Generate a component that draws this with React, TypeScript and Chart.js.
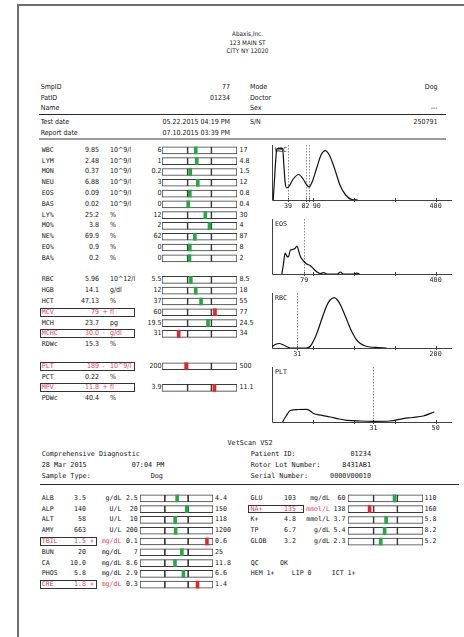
import React, { useEffect, useRef } from "react";
import { Chart, registerables } from "chart.js";
Chart.register(...registerables);

// ---------------- data ----------------
const labAddress = ["Abaxis,Inc.", "123 MAIN ST", "CITY NY 12020"];
const infoLeftLabels = ["SmpID", "PatID", "Name", "Test date", "Report date"];
const infoLeftValues = ["77", "01234", "", "05.22.2015 04:19 PM", "07.10.2015 03:39 PM"];
const infoRightLabels = ["Mode", "Doctor", "Sex", "S/N", ""];
const infoRightValues = ["Dog", "", "---", "250791", ""];

const hmNames = ["WBC", "LYM", "MON", "NEU", "EOS", "BAS", "LY%", "MO%", "NE%", "EO%", "BA%", "",
  "RBC", "HGB", "HCT", "MCV", "MCH", "MCHC", "RDWc", "", "PLT", "PCT", "MPV", "PDWc"];
const hmValues = ["9.85", "2.48", "0.37", "6.88", "0.09", "0.02", "25.2", "3.8", "69.9", "0.9", "0.2", "",
  "5.96", "14.1", "47.13", "79", "23.7", "30.0", "15.3", "", "189", "0.22", "11.8", "40.4"];
const hmFlags = ["", "", "", "", "", "", "", "", "", "", "", "",
  "", "", "", "+", "", "-", "", "", "-", "", "+", ""];
const hmUnits = ["10^9/l", "10^9/l", "10^9/l", "10^9/l", "10^9/l", "10^9/l", "%", "%", "%", "%", "%", "",
  "10^12/l", "g/dl", "%", "fl", "pg", "g/dl", "%", "", "10^9/l", "%", "fl", "%"];
const hmLow = [6, 1, 0.2, 3, 0, 0, 12, 2, 62, 0, 0, null,
  5.5, 12, 37, 60, 19.5, 31, null, null, 200, null, 3.9, null];
const hmHigh = [17, 4.8, 1.5, 12, 0.8, 0.4, 30, 4, 87, 8, 2, null,
  8.5, 18, 55, 77, 24.5, 34, null, null, 500, null, 11.1, null];

const chemTitle = "VetScan VS2";
const chemInfoLeft = ["Comprehensive Diagnostic", "28 Mar 2015", "Sample Type:"];
const chemInfoMid = ["", "07:04 PM", "Dog"];
const chemInfoRightLabels = ["Patient ID:", "Rotor Lot Number:", "Serial Number:"];
const chemInfoRightValues = ["01234", "8431AB1", "0000V00010"];

const chemNamesL = ["ALB", "ALP", "ALT", "AMY", "TBIL", "BUN", "CA", "PHOS", "CRE"];
const chemValuesL = ["3.5", "140", "58", "663", "1.5", "20", "10.0", "5.8", "1.8"];
const chemFlagsL = ["", "", "", "", "+", "", "", "", "+"];
const chemUnitsL = ["g/dL", "U/L", "U/L", "U/L", "mg/dL", "mg/dL", "mg/dL", "mg/dL", "mg/dL"];
const chemLowL = [2.5, 20, 10, 200, 0.1, 7, 8.6, 2.9, 0.3];
const chemHighL = [4.4, 150, 118, 1200, 0.6, 25, 11.8, 6.6, 1.4];

const chemNamesR = ["GLU", "NA+", "K+", "TP", "GLOB"];
const chemValuesR = ["103", "135", "4.8", "6.7", "3.2"];
const chemFlagsR = ["", "-", "", "", ""];
const chemUnitsR = ["mg/dL", "mmol/L", "mmol/L", "g/dL", "g/dL"];
const chemLowR = [60, 138, 3.7, 5.4, 2.3];
const chemHighR = [110, 160, 5.8, 8.2, 5.2];

const qcLine1 = ["QC", "OK"];
const qcLine2 = ["HEM 1+", "LIP 0", "ICT 1+"];

// histograms: [size, count]
const wbcCurve = [[3, 0], [6, 20], [10, 45], [12.5, 51.5], [26, 51.5], [29, 35], [32, 18], [36, 12], [42, 14], [52, 21],
  [65, 25.5], [76, 21], [85, 15], [91, 13], [100, 20], [110, 33], [120, 45], [130, 49.3], [140, 45], [150, 35],
  [158, 25], [166, 15], [180, 5], [195, 0.5], [210, 0]];
const wbcMarks = [39, 82, 90];
const wbcTickLabels = ["39", "82", "90", "400"];
const wbcTickValues = [39, 82, 90, 400];
const wbcMinorTicks = [100, 200, 300, 400];

const eosCurve = [[24, 0], [28, 10], [32, 21], [36, 18], [40, 17], [45, 24], [50, 24.5], [56, 25.5], [61, 28], [66, 22],
  [70, 17], [77, 13], [85, 10], [93, 8.5], [102, 5], [110, 2], [118, 0.5], [126, 1.3], [134, 0], [160, 0],
  [167, 2], [174, 0], [200, 0], [207, 0.8], [214, 0]];
const eosMarks = [79];
const eosTickLabels = ["79", "400"];
const eosTickValues = [79, 400];
const eosMinorTicks = [100, 200, 300, 400];

const rbcCurve = [[0, 1], [4, 3.5], [9, 4.5], [14, 3], [19, 1], [23, 0], [42, 0], [47, 2], [51, 7.5], [55, 15],
  [59, 24.5], [63, 34], [67, 42.5], [71, 48], [76, 50.4], [80, 48], [84, 42.5], [88, 35], [92, 27], [96, 19],
  [100, 12.5], [104, 7.5], [108, 4.5], [114, 2], [120, 1], [130, 0.5], [140, 0]];
const rbcMarks = [31];
const rbcTickLabels = ["31", "200"];
const rbcTickValues = [31, 200];
const rbcMinorTicks = [50, 100, 150, 200];

const pltCurve = [[3.2, 0], [4.3, 6], [5.6, 11.5], [8, 12.5], [10.7, 12.7], [12.7, 8.5], [15, 6.8], [17.8, 5],
  [20.5, 3], [22.9, 1.7], [27, 1], [31, 0.7], [36, 1], [40.1, 3.4], [43, 4.5], [46.2, 6], [49.6, 10]];
const pltMarks = [31];
const pltTickLabels = ["31", "50"];
const pltTickValues = [31, 50];
const pltMinorTicks = [12.5, 25, 37.5, 50];

// ---------------- styles ----------------
const W = 464;
const INK = "#151515";
const RED_TXT = "#e2405c";
const GREEN = "#25a844";
const RED = "#e3262b";
const BOX = "#3a3a3a";
const SANS = '"DejaVu Sans Condensed","DejaVu Sans",sans-serif';
const MONO = '"DejaVu Sans Mono","Liberation Mono",monospace';

function T({ x, y, t, a = "left", c = INK, f = SANS, s = 7 }: any) {
  const st: any = {
    position: "absolute", top: y - 4.5, fontFamily: f, fontSize: s, lineHeight: "9px", height: 9,
    color: c, whiteSpace: "pre",
  };
  if (f === SANS) st.fontStretch = "condensed";
  if (a === "right") st.right = W - x;
  else if (a === "center") { st.left = x - 100; st.width = 200; st.textAlign = "center"; }
  else st.left = x;
  return <div style={st}>{t}</div>;
}

function RangeBars({ left, top, width, height, low, high, values, flags }: any) {
  const ref = useRef<HTMLCanvasElement>(null);
  useEffect(() => {
    const n = low.length;
    const labels = Array.from({ length: n }, (_, i) => String(i));
    const has = (i: number) => low[i] != null && high[i] != null;
    const pos = (i: number) => {
      const p = (parseFloat(values[i]) - low[i]) / (high[i] - low[i]);
      return Math.max(-0.75, Math.min(1.75, p));
    };
    const chart = new Chart(ref.current as HTMLCanvasElement, {
      type: "bar",
      data: {
        labels,
        datasets: [
          {
            data: labels.map((_, i) => (has(i) ? [pos(i) - 0.06, pos(i) + 0.06] : null)) as any,
            backgroundColor: labels.map((_, i) => (flags[i] ? RED : GREEN)),
            borderWidth: 0, barThickness: 7, grouped: false,
          } as any,
          {
            data: labels.map((_, i) => (has(i) ? [0, 1] : null)) as any,
            backgroundColor: "rgba(0,0,0,0)", borderColor: BOX,
            borderWidth: { left: 1, right: 1, top: 0, bottom: 0 }, borderSkipped: false,
            barThickness: 7, grouped: false,
          } as any,
          {
            data: labels.map((_, i) => (has(i) ? [-1, 2] : null)) as any,
            backgroundColor: "#ffffff", borderColor: BOX, borderWidth: 1, borderSkipped: false,
            barThickness: 7, grouped: false,
          } as any,
        ],
      },
      options: {
        indexAxis: "y", animation: false, responsive: false, maintainAspectRatio: false, events: [],
        layout: { padding: { left: 1, right: 1, top: 0, bottom: 0 } },
        plugins: { legend: { display: false }, tooltip: { enabled: false } },
        scales: { x: { display: false, min: -1, max: 2 }, y: { display: false } },
      } as any,
    });
    return () => chart.destroy();
  }, []);
  return <canvas ref={ref} width={width} height={height}
    style={{ position: "absolute", left, top, width, height }} />;
}

function Histogram({ top, curve, xMax, yMax, marks, tickValues, tickLabels, minorTicks, name, shifts }: any) {
  const ref = useRef<HTMLCanvasElement>(null);
  useEffect(() => {
    const deco = {
      id: "deco",
      beforeDatasetsDraw(chart: any) {
        const { ctx, chartArea: ca, scales } = chart;
        const x = scales.x;
        ctx.save();
        ctx.strokeStyle = "#404040";
        ctx.lineWidth = 1;
        ctx.beginPath();
        ctx.moveTo(ca.left + 0.5, ca.top);
        ctx.lineTo(ca.left + 0.5, ca.bottom + 0.5);
        ctx.lineTo(ca.right, ca.bottom + 0.5);
        ctx.stroke();
        ctx.beginPath();
        [...minorTicks, ...marks].forEach((v: number) => {
          const px = Math.round(x.getPixelForValue(v)) + 0.5;
          ctx.moveTo(px, ca.bottom - 2);
          ctx.lineTo(px, ca.bottom + 2);
        });
        ctx.stroke();
        ctx.setLineDash([1.5, 1.5]);
        ctx.strokeStyle = "#8a8a8a";
        ctx.beginPath();
        marks.forEach((v: number) => {
          const px = Math.round(x.getPixelForValue(v)) + 0.5;
          ctx.moveTo(px, ca.top);
          ctx.lineTo(px, ca.bottom);
        });
        ctx.stroke();
        ctx.restore();
      },
      afterDatasetsDraw(chart: any) {
        const { ctx, chartArea: ca, scales } = chart;
        const x = scales.x;
        ctx.save();
        ctx.fillStyle = INK;
        ctx.font = '6.7px "DejaVu Sans Mono"';
        ctx.textBaseline = "middle";
        ctx.textAlign = "center";
        tickLabels.forEach((l: string, i: number) => {
          ctx.fillText(l, x.getPixelForValue(tickValues[i]) + (shifts ? shifts[i] : 0), ca.bottom + 6.5);
        });
        ctx.textAlign = "left";
        ctx.fillText(name, ca.left + 3, ca.top + 5.5);
        ctx.restore();
      },
    };
    const chart = new Chart(ref.current as HTMLCanvasElement, {
      type: "line",
      data: {
        datasets: [{
          data: curve.map((p: number[]) => ({ x: p[0], y: p[1] })),
          borderColor: "#111111", borderWidth: 1.2, pointRadius: 0, cubicInterpolationMode: "monotone",
          fill: false,
        } as any],
      },
      options: {
        animation: false, responsive: false, maintainAspectRatio: false, events: [],
        layout: { padding: { left: 10, right: 10, top: 3, bottom: 12 } },
        plugins: { legend: { display: false }, tooltip: { enabled: false } },
        scales: {
          x: { type: "linear", display: false, min: 0, max: xMax },
          y: { display: false, min: 0, max: yMax },
        },
      } as any,
      plugins: [deco],
    });
    return () => chart.destroy();
  }, []);
  return <canvas ref={ref} width={200} height={70}
    style={{ position: "absolute", left: 262, top, width: 200, height: 70 }} />;
}

const HM_TOP = 145, HM_H = 259;
const CH_TOP = 493, CH_PITCH = 97 / 9;

export default function App() {
  const hmY = (i: number) => HM_TOP + (i + 0.5) * HM_H / hmNames.length;
  const chY = (i: number) => CH_TOP + (i + 0.5) * CH_PITCH;
  const infoY = [87.7, 98.3, 108.7, 122, 133.3];
  const chemInfoY = [454.5, 465.5, 476.3];
  return (
    <div style={{ position: "absolute", left: 0, top: 0, width: W, height: 637, background: "#fff", overflow: "hidden" }}>
      <div style={{ position: "absolute", left: 17, top: 4, width: 500, height: 700, borderTop: "2px solid #6e6e6e", borderLeft: "2px solid #6e6e6e" }} />

      {labAddress.map((t, i) => <T key={"a" + i} x={247.5} y={33.3 + i * 8.7} t={t} a="center" s={6.3} />)}

      {infoLeftLabels.map((t, i) => <T key={"il" + i} x={40.7} y={infoY[i]} t={t} />)}
      {infoLeftValues.map((t, i) => <T key={"iv" + i} x={230} y={infoY[i]} t={t} a="right" />)}
      {infoRightLabels.map((t, i) => <T key={"rl" + i} x={250} y={infoY[i]} t={t} />)}
      {infoRightValues.map((t, i) => <T key={"rv" + i} x={437.5} y={infoY[i]} t={t} a="right" />)}
      <div style={{ position: "absolute", left: 39, top: 113.5, width: 407, height: 1.6, background: "#2a2a2a" }} />
      <div style={{ position: "absolute", left: 39, top: 138, width: 407, height: 1.8, background: "#9a9a9a" }} />

      {hmNames.map((n, i) => {
        if (!n) return null;
        const y = hmY(i);
        const c = hmFlags[i] ? RED_TXT : INK;
        return (
          <React.Fragment key={"hm" + i}>
            {hmFlags[i] && <div style={{ position: "absolute", left: 39.5, top: y - 4.6, width: 95, height: 9.2, border: "1px solid #333", boxSizing: "border-box" }} />}
            <T x={41.7} y={y} t={n} f={MONO} s={6.7} c={c} />
            <T x={99} y={y} t={hmValues[i]} a="right" c={c} />
            {hmFlags[i] && <T x={102.5} y={y} t={hmFlags[i]} c={c} />}
            <T x={110} y={y} t={hmUnits[i]} c={c} />
            {hmLow[i] != null && <T x={161.5} y={y} t={String(hmLow[i])} a="right" />}
            {hmHigh[i] != null && <T x={239.5} y={y} t={String(hmHigh[i])} />}
          </React.Fragment>
        );
      })}
      <RangeBars left={161} top={HM_TOP} width={77} height={HM_H} low={hmLow} high={hmHigh} values={hmValues} flags={hmFlags} />

      <Histogram top={142} curve={wbcCurve} xMax={440} yMax={55} marks={wbcMarks} tickValues={wbcTickValues}
        tickLabels={wbcTickLabels} minorTicks={wbcMinorTicks} name="WBC" shifts={[0, 0, 8, 0]} />
      <Histogram top={216} curve={eosCurve} xMax={440} yMax={55} marks={eosMarks} tickValues={eosTickValues}
        tickLabels={eosTickLabels} minorTicks={eosMinorTicks} name="EOS" />
      <Histogram top={290} curve={rbcCurve} xMax={220} yMax={55} marks={rbcMarks} tickValues={rbcTickValues}
        tickLabels={rbcTickLabels} minorTicks={rbcMinorTicks} name="RBC" />
      <Histogram top={364} curve={pltCurve} xMax={55} yMax={55} marks={pltMarks} tickValues={pltTickValues}
        tickLabels={pltTickLabels} minorTicks={pltMinorTicks} name="PLT" />

      <T x={250} y={443} t={chemTitle} a="center" f={MONO} s={6.8} />
      {chemInfoLeft.map((t, i) => <T key={"cl" + i} x={41.7} y={chemInfoY[i]} t={t} f={MONO} s={6.8} />)}
      {chemInfoMid.map((t, i) => <T key={"cm" + i} x={i === 1 ? 131.7 : 150.7} y={chemInfoY[i]} t={t} f={MONO} s={6.8} />)}
      {chemInfoRightLabels.map((t, i) => <T key={"cr" + i} x={250.7} y={chemInfoY[i]} t={t} f={MONO} s={6.8} />)}
      {chemInfoRightValues.map((t, i) => <T key={"cv" + i} x={371} y={chemInfoY[i]} t={t} a="right" f={MONO} s={6.8} />)}
      <div style={{ position: "absolute", left: 40, top: 484, width: 419, height: 1.2, background: "#2a2a2a" }} />

      {chemNamesL.map((n, i) => {
        const y = chY(i);
        const c = chemFlagsL[i] ? RED_TXT : INK;
        return (
          <React.Fragment key={"cl" + i}>
            {chemFlagsL[i] && <div style={{ position: "absolute", left: 39.5, top: y - 4.3, width: 57, height: 8.6, border: "1px solid #333", boxSizing: "border-box" }} />}
            <T x={41.7} y={y} t={n} f={MONO} s={6.6} c={c} />
            <T x={86} y={y} t={chemValuesL[i]} a="right" f={MONO} s={6.6} c={c} />
            {chemFlagsL[i] && <T x={90} y={y} t={chemFlagsL[i]} f={MONO} s={6.6} c={c} />}
            <T x={121.5} y={y} t={chemUnitsL[i]} a="right" f={MONO} s={6.6} c={c} />
            <T x={137.8} y={y} t={String(chemLowL[i])} a="right" f={MONO} s={6.6} />
            <T x={215} y={y} t={String(chemHighL[i])} f={MONO} s={6.6} />
          </React.Fragment>
        );
      })}
      <RangeBars left={139} top={CH_TOP} width={75} height={97} low={chemLowL} high={chemHighL} values={chemValuesL} flags={chemFlagsL} />

      {chemNamesR.map((n, i) => {
        const y = chY(i);
        const c = chemFlagsR[i] ? RED_TXT : INK;
        return (
          <React.Fragment key={"cr" + i}>
            {chemFlagsR[i] && <div style={{ position: "absolute", left: 248.3, top: y - 4.3, width: 56, height: 8.6, border: "1px solid #333", boxSizing: "border-box" }} />}
            <T x={250.5} y={y} t={n} f={MONO} s={6.6} c={c} />
            <T x={296} y={y} t={chemValuesR[i]} a="right" f={MONO} s={6.6} c={c} />
            {chemFlagsR[i] && <T x={300} y={y} t={chemFlagsR[i]} f={MONO} s={6.6} c={c} />}
            <T x={330} y={y} t={chemUnitsR[i]} a="right" f={MONO} s={6.6} c={c} />
            <T x={345.5} y={y} t={String(chemLowR[i])} a="right" f={MONO} s={6.6} />
            <T x={424.5} y={y} t={String(chemHighR[i])} f={MONO} s={6.6} />
          </React.Fragment>
        );
      })}
      <RangeBars left={347} top={CH_TOP} width={77} height={54} low={chemLowR} high={chemHighR} values={chemValuesR} flags={chemFlagsR} />

      <T x={250.7} y={chY(6)} t={qcLine1[0]} f={MONO} s={6.6} />
      <T x={280} y={chY(6)} t={qcLine1[1]} f={MONO} s={6.6} />
      <T x={250.7} y={chY(7)} t={qcLine2[0]} f={MONO} s={6.6} />
      <T x={291.7} y={chY(7)} t={qcLine2[1]} f={MONO} s={6.6} />
      <T x={331.7} y={chY(7)} t={qcLine2[2]} f={MONO} s={6.6} />
    </div>
  );
}
